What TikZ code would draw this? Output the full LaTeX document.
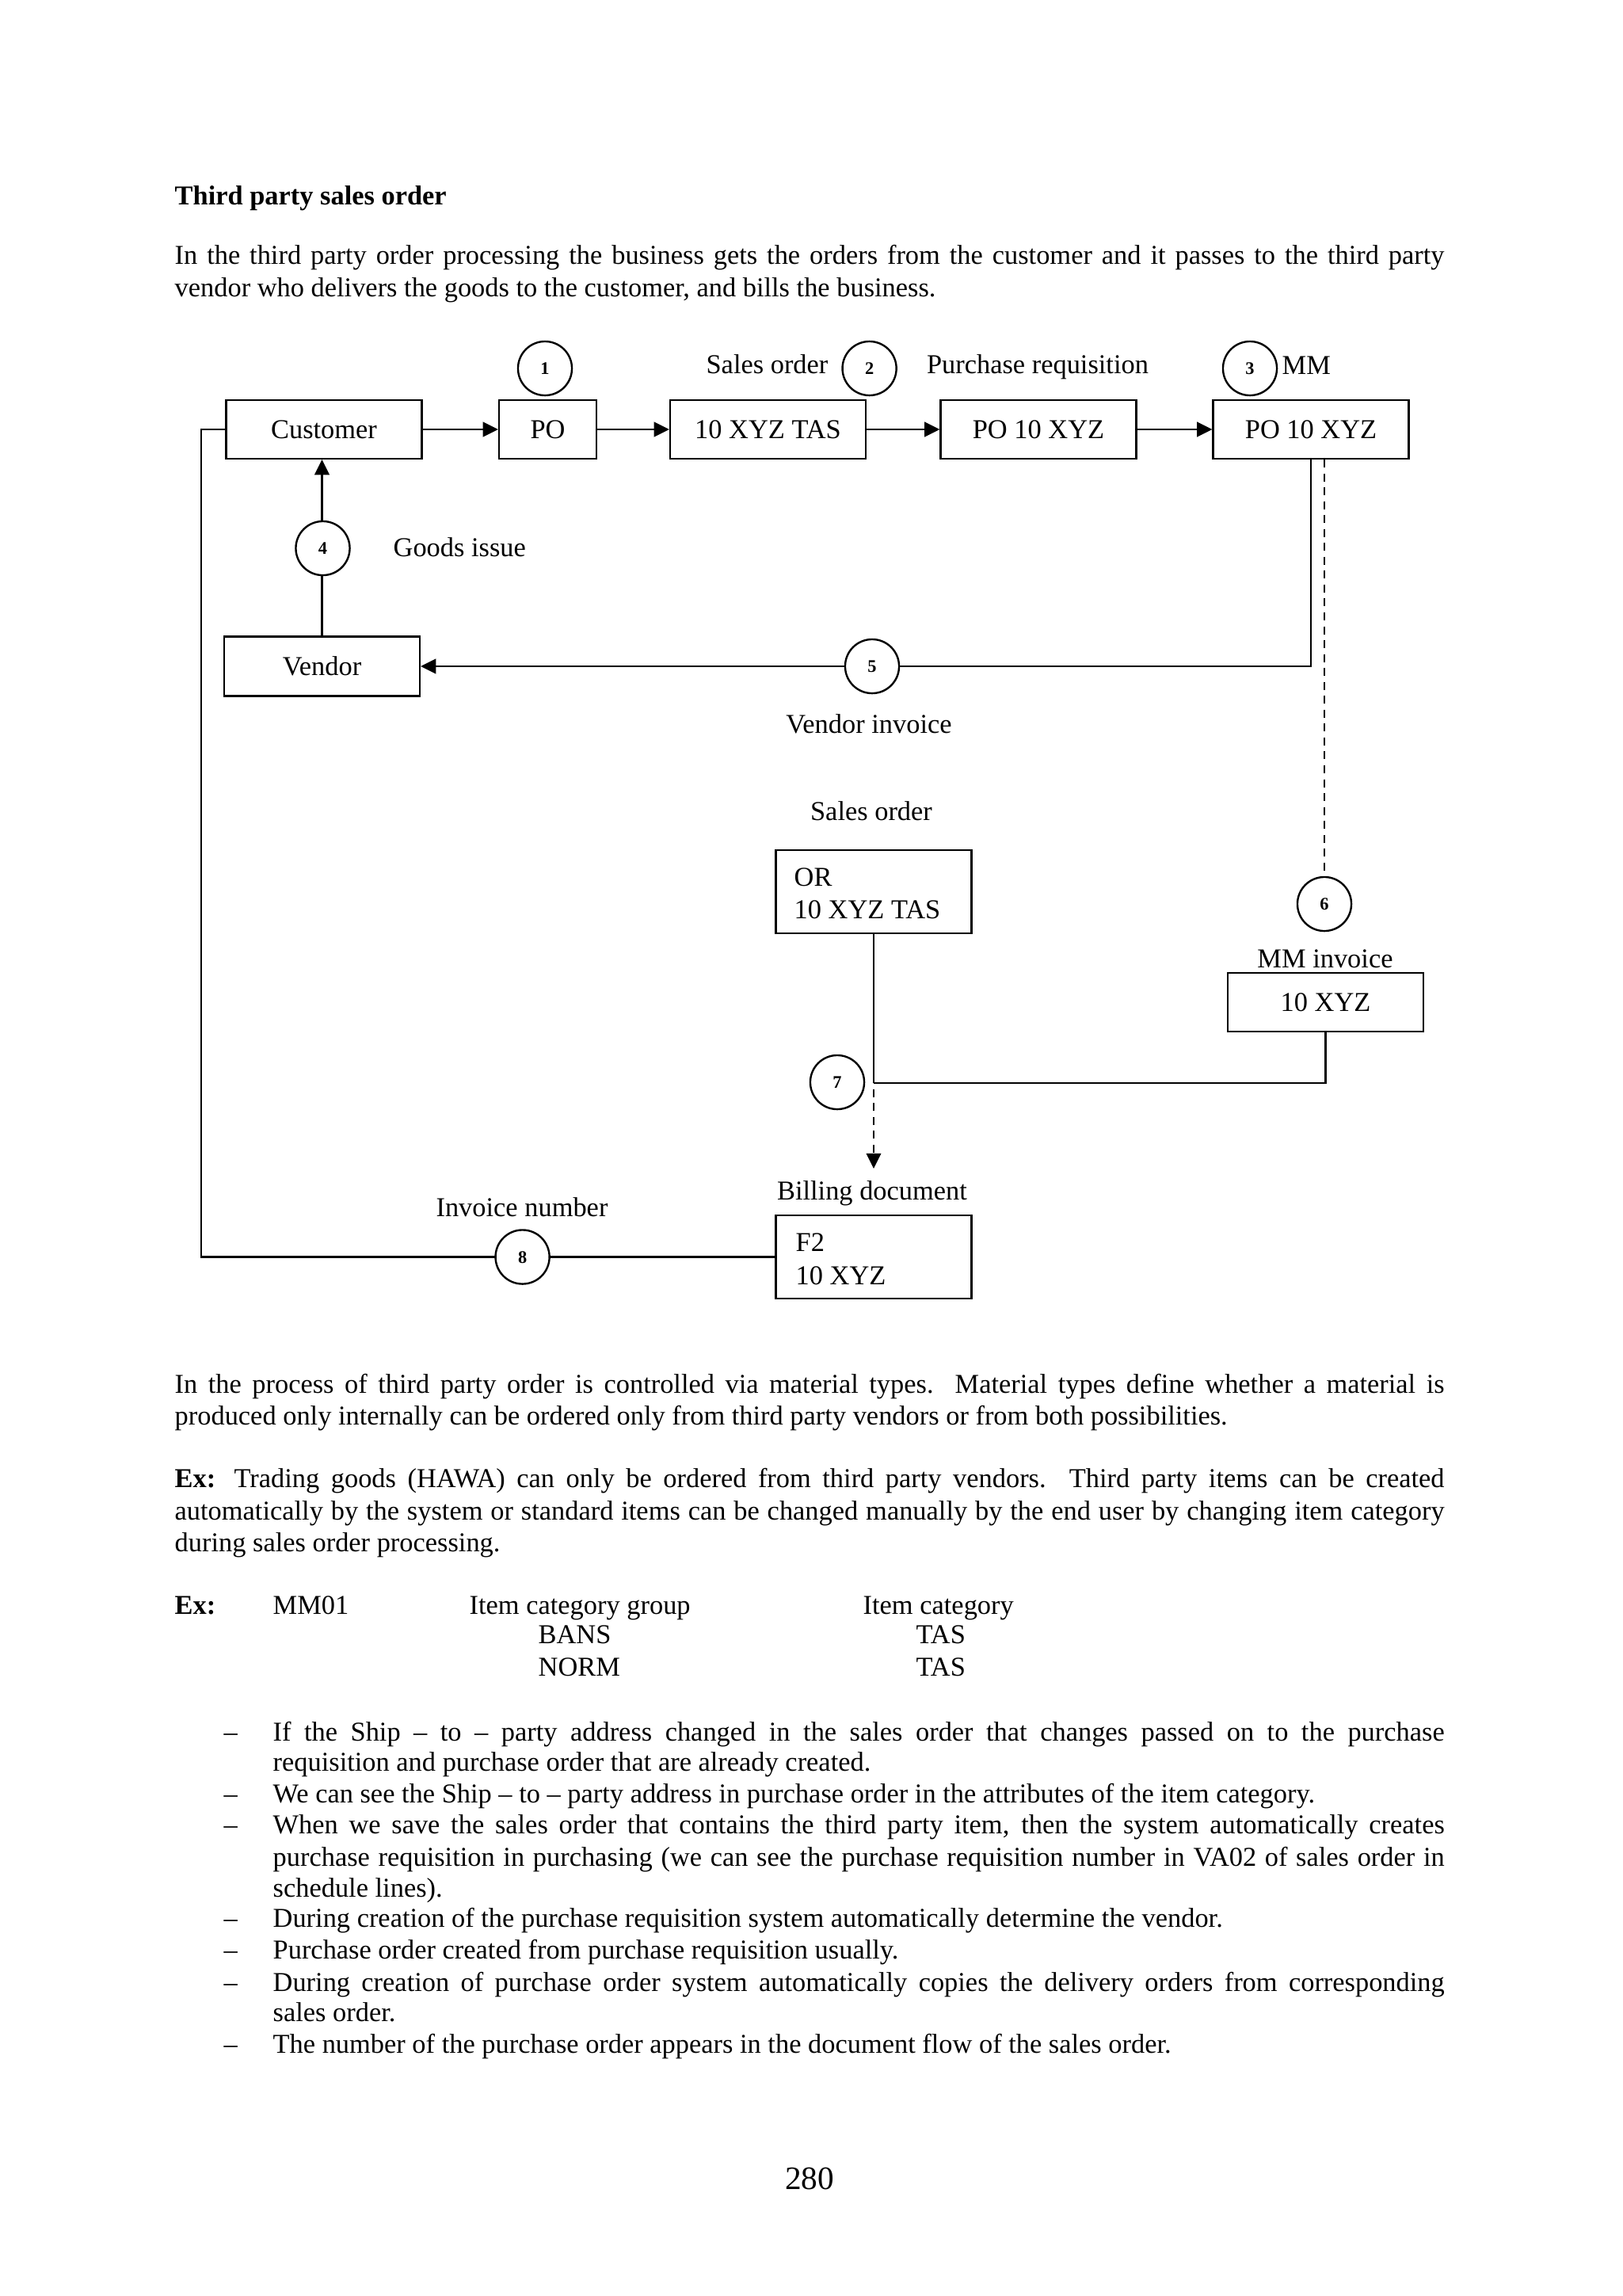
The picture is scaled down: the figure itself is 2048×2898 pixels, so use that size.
\documentclass[tikz,border=0pt]{standalone}
\usepackage{fontspec}
\setmainfont{Liberation Serif}
\usetikzlibrary{arrows.meta}
\newcommand\jline[1]{\makebox[465.9pt][s]{#1}}
\newcommand\bline[1]{\makebox[429.9pt][s]{#1}}
\begin{document}
\begin{tikzpicture}[x=0.29066pt,y=-0.29066pt,
  font=\fontsize{10}{12}\selectfont,
  box/.style={draw, line width=0.6pt, minimum width=71.8pt, minimum height=21.5pt, inner sep=0pt, text height=6.6pt, text depth=0pt},
  num/.style={circle, draw, fill=white, line width=0.7pt, minimum size=19.8pt, inner sep=0pt, font=\fontsize{6.5}{7}\selectfont\bfseries, text height=4.4pt, text depth=0pt},
  lbl/.style={anchor=base, inner sep=0pt},
  lblw/.style={anchor=base west, inner sep=0pt},
  conn/.style={line width=0.6pt},
  arr/.style={conn, -{Triangle[length=5.6pt,width=5.4pt]}},
  dsh/.style={conn, dash pattern=on 2.9pt off 2.2pt}]
\useasboundingbox[fill=white] (0,0) rectangle (2048,2898);

% ---- heading and first paragraph
\node[lblw, font=\fontsize{10}{12}\selectfont\bfseries] (title) at (220,258) {Third party sales order};
\node[lblw] (p1a) at (220,333) {\jline{In the third party order processing the business gets the orders from the customer and it passes to the third party}};
\node[lblw] (p1b) at (220,374) {vendor who delivers the goods to the customer, and bills the business.};

% ---- diagram boxes
\node[box] (cust) at (409,542) {Customer};
\node[box, minimum width=35.75pt] (po) at (691.5,542) {PO};
\node[box] (tas) at (969.5,542) {10 XYZ TAS};
\node[box] (pr) at (1311,542) {PO 10 XYZ};
\node[box] (po2) at (1655,542) {PO 10 XYZ};
\node[box, minimum height=21.8pt] (vend) at (406.5,841) {Vendor};
\node[box, minimum height=30.52pt] (orbox) at (1103,1125.5) {};
\node[box] (mmbox) at (1673.5,1265) {10 XYZ};
\node[box, minimum height=30.52pt] (f2box) at (1103,1586.5) {};

\node[lblw] (ortxt) at (1002,1118) {OR};
\node[lblw] (ortxt2) at (1002,1159) {10 XYZ TAS};
\node[lblw] (f2txt) at (1004,1579) {F2};
\node[lblw] (f2txt2) at (1004,1621) {10 XYZ};

% ---- labels
\node[lbl] (lso) at (968.5,471) {Sales order};
\node[lbl] (lpr) at (1310,471) {Purchase requisition};
\node[lblw] (lmm) at (1618,472) {MM};
\node[lblw] (lgi) at (496,702) {Goods issue};
\node[lbl] (lvi) at (1097,925) {Vendor invoice};
\node[lbl] (lso2) at (1100,1035) {Sales order};
\node[lbl] (lmmi) at (1673,1221) {MM invoice};
\node[lbl] (lbd) at (1101,1514) {Billing document};
\node[lbl] (lin) at (659,1535) {Invoice number};

% ---- coordinates
\coordinate (j7) at (1103,1367);
\coordinate (tip7) at (1103,1475);
\coordinate (lc) at (254,1000);

% ---- connectors
\draw[arr] (cust.east) -- (po.west);
\draw[arr] (po.east) -- (tas.west);
\draw[arr] (tas.east) -- (pr.west);
\draw[arr] (pr.east) -- (po2.west);
\draw[arr] (vend.north) -- (vend.north |- cust.south);
\draw[arr] (po2.south) |- (vend.east);
\draw[conn] (cust.west) -| (lc) |- (f2box.west);
\draw[conn] (orbox.south) -- (j7);
\draw[conn] (mmbox.south) |- (j7);
\draw[dsh, dash phase=2.9pt, -{Triangle[length=5.6pt,width=5.4pt]}] (j7) -- (tip7);

% ---- numbered circles
\node[num] (c1) at (688,465) {1};
\node[num] (c2) at (1097.6,465) {2};
\node[num] (c3) at (1578,465) {3};
\node[num] (c4) at (407.5,692) {4};
\node[num] (c5) at (1101,841) {5};
\node[num] (c6) at (1672,1141) {6};
\node[num] (c7) at (1057,1366) {7};
\node[num] (c8) at (659.6,1586.5) {8};
\draw[dsh] (c6.north |- po2.south) -- (c6.north);

% ---- lower text
\node[lblw] (p2a) at (220,1758) {\jline{In the process of third party order is controlled via material types.\ \ Material types define whether a material is}};
\node[lblw] (p2b) at (220,1798) {produced only internally can be ordered only from third party vendors or from both possibilities.};
\node[lblw] (p3a) at (220,1877) {\jline{\textbf{Ex:} Trading goods (HAWA) can only be ordered from third party vendors.\ \ Third party items can be created}};
\node[lblw] (p3b) at (220,1918) {\jline{automatically by the system or standard items can be changed manually by the end user by changing item category}};
\node[lblw] (p3c) at (220,1958) {during sales order processing.};

\node[lblw, font=\fontsize{10}{12}\selectfont\bfseries] (ex) at (220,2037) {Ex:};
\node[lblw] (mm01) at (344,2037) {MM01};
\node[lblw] (icg) at (592,2037) {Item category group};
\node[lblw] (ic) at (1089,2037) {Item category};
\node[lblw] (bans) at (679,2074) {BANS};
\node[lblw] (tas1) at (1156,2074) {TAS};
\node[lblw] (norm) at (679,2115) {NORM};
\node[lblw] (tas2) at (1156,2115) {TAS};

% ---- bullets
\foreach \y/\n in {2197/1,2275/2,2314/3,2432/4,2472/5,2513/6,2591/7}
  \node[lblw] (dash\n) at (282,\y) {–};
\node[lblw] (b1a) at (344,2197) {\bline{If the Ship – to – party address changed in the sales order that changes passed on to the purchase}};
\node[lblw] (b1b) at (344,2235) {requisition and purchase order that are already created.};
\node[lblw] (b2) at (344,2275) {We can see the Ship – to – party address in purchase order in the attributes of the item category.};
\node[lblw] (b3a) at (344,2314) {\bline{When we save the sales order that contains the third party item, then the system automatically creates}};
\node[lblw] (b3b) at (344,2355) {\bline{purchase requisition in purchasing (we can see the purchase requisition number in VA02 of sales order in}};
\node[lblw] (b3c) at (344,2394) {schedule lines).};
\node[lblw] (b4) at (344,2432) {During creation of the purchase requisition system automatically determine the vendor.};
\node[lblw] (b5) at (344,2472) {Purchase order created from purchase requisition usually.};
\node[lblw] (b6a) at (344,2513) {\bline{During creation of purchase order system automatically copies the delivery orders from corresponding}};
\node[lblw] (b6b) at (344,2551) {sales order.};
\node[lblw] (b7) at (344,2591) {The number of the purchase order appears in the document flow of the sales order.};

\node[lbl, font=\fontsize{12}{14}\selectfont] (pg) at (1022,2763) {280};
\end{tikzpicture}
\end{document}
